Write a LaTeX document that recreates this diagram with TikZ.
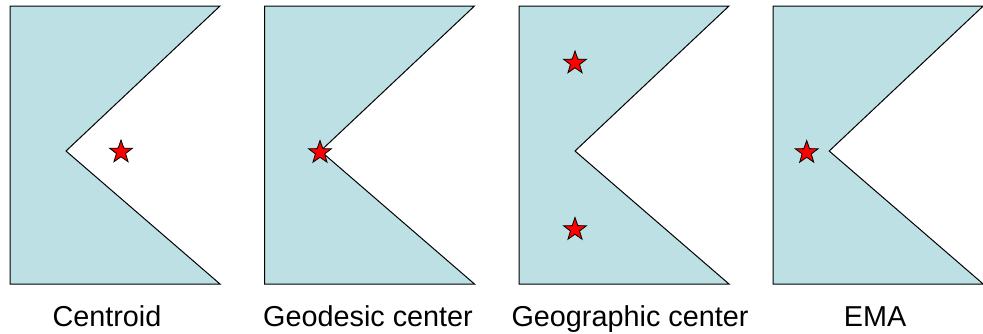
\documentclass[tikz,border=0pt]{standalone}
\usepackage{fontspec}
\setmainfont{Liberation Sans}
\usetikzlibrary{shapes.geometric}
\definecolor{shapefill}{RGB}{188,224,227}
\tikzset{
  region/.style={draw=black, fill=shapefill, line width=1pt, line join=miter},
  starmark/.style={star, star points=5, star point ratio=2.5, minimum size=24pt, inner sep=0pt, draw=black, fill=red, line width=0.8pt},
  caption/.style={anchor=base, inner sep=0pt, font=\fontsize{28.8}{34}\selectfont}
}
\begin{document}
\begin{tikzpicture}[x=1pt,y=-1pt]
\useasboundingbox (0,0) rectangle (983,333);
\foreach \l [count=\i] in {10,264.5,519,773.2}{
  \draw[region] (\l,6) -- ++(210,0) -- (\l+56,151) -- (\l+210,284) -- (\l,284) -- cycle;
}
\node[starmark] (s1) at (121,152) {};
\node[starmark] (s2) at (320,152.5) {};
\node[starmark] (s3a) at (575,63) {};
\node[starmark] (s3b) at (575,229.5) {};
\node[starmark] (s4) at (806.7,152.5) {};
\node[caption] (c1) at (107,326) {Centroid};
\node[caption] (c2) at (368,326) {Geodesic center};
\node[caption] (c3) at (630,326) {Geographic center};
\node[caption] (c4) at (875,326) {EMA};
\end{tikzpicture}
\end{document}
